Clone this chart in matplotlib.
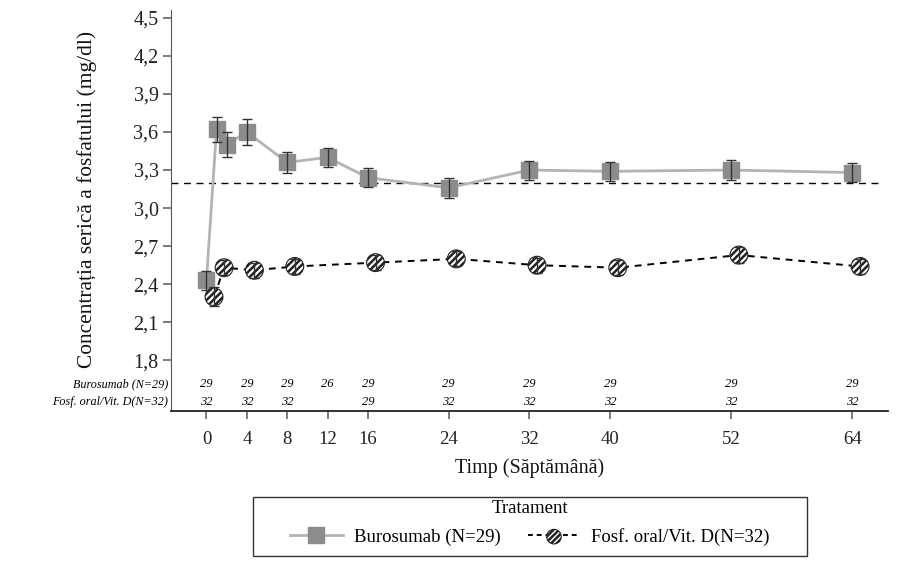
import matplotlib.pyplot as plt
import numpy as np
from matplotlib.lines import Line2D
from matplotlib.patches import Rectangle
from matplotlib.legend_handler import HandlerTuple

plt.rcParams['font.family'] = ['Liberation Serif', 'DejaVu Serif']
plt.rcParams['hatch.linewidth'] = 1.8
plt.rcParams['hatch.color'] = '#111111'

# Burosumab
buro_weeks = [0, 1, 2, 4, 8, 12, 16, 24, 32, 40, 52, 64]
buro_mean = [2.43, 3.62, 3.50, 3.60, 3.36, 3.40, 3.24, 3.16, 3.30, 3.29, 3.30, 3.28]
buro_err = [0.075, 0.10, 0.10, 0.10, 0.08, 0.075, 0.075, 0.08, 0.075, 0.075, 0.08, 0.075]

# Fosfat oral / Vit. D
oral_weeks = [0, 1, 4, 8, 16, 24, 32, 40, 52, 64]
oral_mean = [2.30, 2.53, 2.51, 2.54, 2.57, 2.60, 2.55, 2.53, 2.63, 2.54]
oral_err = [0.075, 0.06, 0.06, 0.06, 0.06, 0.06, 0.06, 0.06, 0.06, 0.06]

# numbers at risk
n_weeks = [0, 4, 8, 12, 16, 24, 32, 40, 52, 64]
n_buro = ['29', '29', '29', '26', '29', '29', '29', '29', '29', '29']
n_oral = ['32', '32', '32', '', '29', '32', '32', '32', '32', '32']

x_ticks = [0, 4, 8, 12, 16, 24, 32, 40, 52, 64]
y_ticks = [1.8, 2.1, 2.4, 2.7, 3.0, 3.3, 3.6, 3.9, 4.2, 4.5]
ref_level = 3.2
dodge = 0.75

fig = plt.figure(figsize=(9.2, 5.67), dpi=100)
ax = fig.add_axes([0.186, 0.275, 0.779, 0.707])

ax.axhline(ref_level, xmin=0, xmax=0.988, color='black', lw=1, ls=(0, (5, 4)), zorder=1)

ax.plot(buro_weeks, buro_mean, color='#b4b4b4', lw=2, zorder=2)
ax.plot(buro_weeks, buro_mean, ls='none', marker='s', ms=12, color='#8c8c8c',
        mec='#8c8c8c', zorder=3)
ax.errorbar(buro_weeks, buro_mean, yerr=buro_err, fmt='none', ecolor='#333333',
            elinewidth=1, capsize=3.5, capthick=1, zorder=4)

ox = np.array(oral_weeks) + dodge
ax.plot(ox, oral_mean, color='black', lw=1.4, ls=(0, (3.5, 3)), zorder=2)
ax.scatter(ox, oral_mean, s=165, marker='o', facecolor='white', edgecolor='#222222',
           linewidth=0.8, hatch='/////', zorder=3)
ax.errorbar(ox, oral_mean, yerr=oral_err, fmt='none', ecolor='#333333',
            elinewidth=1, capsize=3.5, capthick=1, zorder=4)

# numbers at risk rows
for w, a, b in zip(n_weeks, n_buro, n_oral):
    ax.text(w, 1.61, a, ha='center', va='center', fontsize=9, style='italic')
    ax.text(w, 1.475, b, ha='center', va='center', fontsize=9, style='italic')
ax.text(-3.8, 1.61, 'Burosumab (N=29)', ha='right', va='center', fontsize=8.7, style='italic')
ax.text(-3.8, 1.475, 'Fosf. oral/Vit. D(N=32)', ha='right', va='center', fontsize=8.7, style='italic')

ax.set_xlim(-3.5, 67.5)
ax.set_ylim(1.40, 4.56)
ax.set_xticks(x_ticks)
ax.set_xticklabels([str(t) for t in x_ticks], fontsize=13.5)
ax.set_yticks(y_ticks)
ax.set_yticklabels([f'{t:.1f}'.replace('.', ',') for t in y_ticks], fontsize=14.5)
ax.tick_params(axis='both', direction='out', length=6, width=1.2, color='#666666',
               labelcolor='#222222')
ax.tick_params(axis='x', pad=8)
ax.tick_params(axis='y', pad=3)
for s in ['top', 'right']:
    ax.spines[s].set_visible(False)
ax.spines['left'].set_color('#555555')
ax.spines['bottom'].set_color('#222222')
ax.spines['bottom'].set_linewidth(1.3)

ax.set_ylabel('Concentrația serică a fosfatului (mg/dl)', fontsize=15.4, color='#111111')
ax.yaxis.set_label_coords(-0.104, 0.529)
ax.set_xlabel('Timp (Săptămână)', fontsize=14.5, color='#111111', labelpad=8)

h1 = Line2D([], [], color='#b4b4b4', lw=2, marker='s', ms=12, mfc='#8c8c8c', mec='#8c8c8c')
h2a = Line2D([], [], color='black', lw=1.4, ls=(0, (2.5, 2)))
h2b = ax.scatter([], [], s=110, marker='o', facecolor='white', edgecolor='#222222',
                 linewidth=0.8, hatch='//////')
leg = fig.legend([h1, (h2a, h2b)], ['Burosumab (N=29)', 'Fosf. oral/Vit. D(N=32)'],
                 handler_map={tuple: HandlerTuple(ndivide=1, pad=0)},
                 title='Tratament', ncol=2, fontsize=13.5, title_fontsize=13.5,
                 loc='center', bbox_to_anchor=(530 / 920, 1 - 523 / 567),
                 frameon=False, handlelength=2.8, handletextpad=0.6,
                 columnspacing=1.45, borderpad=0.2, labelspacing=0.55)
fig.patches.append(Rectangle((253 / 920, 1 - 556 / 567), 554 / 920, 59 / 567,
                             transform=fig.transFigure, fill=False,
                             edgecolor='#333333', lw=1))

fig.savefig('out.png', dpi=100)
